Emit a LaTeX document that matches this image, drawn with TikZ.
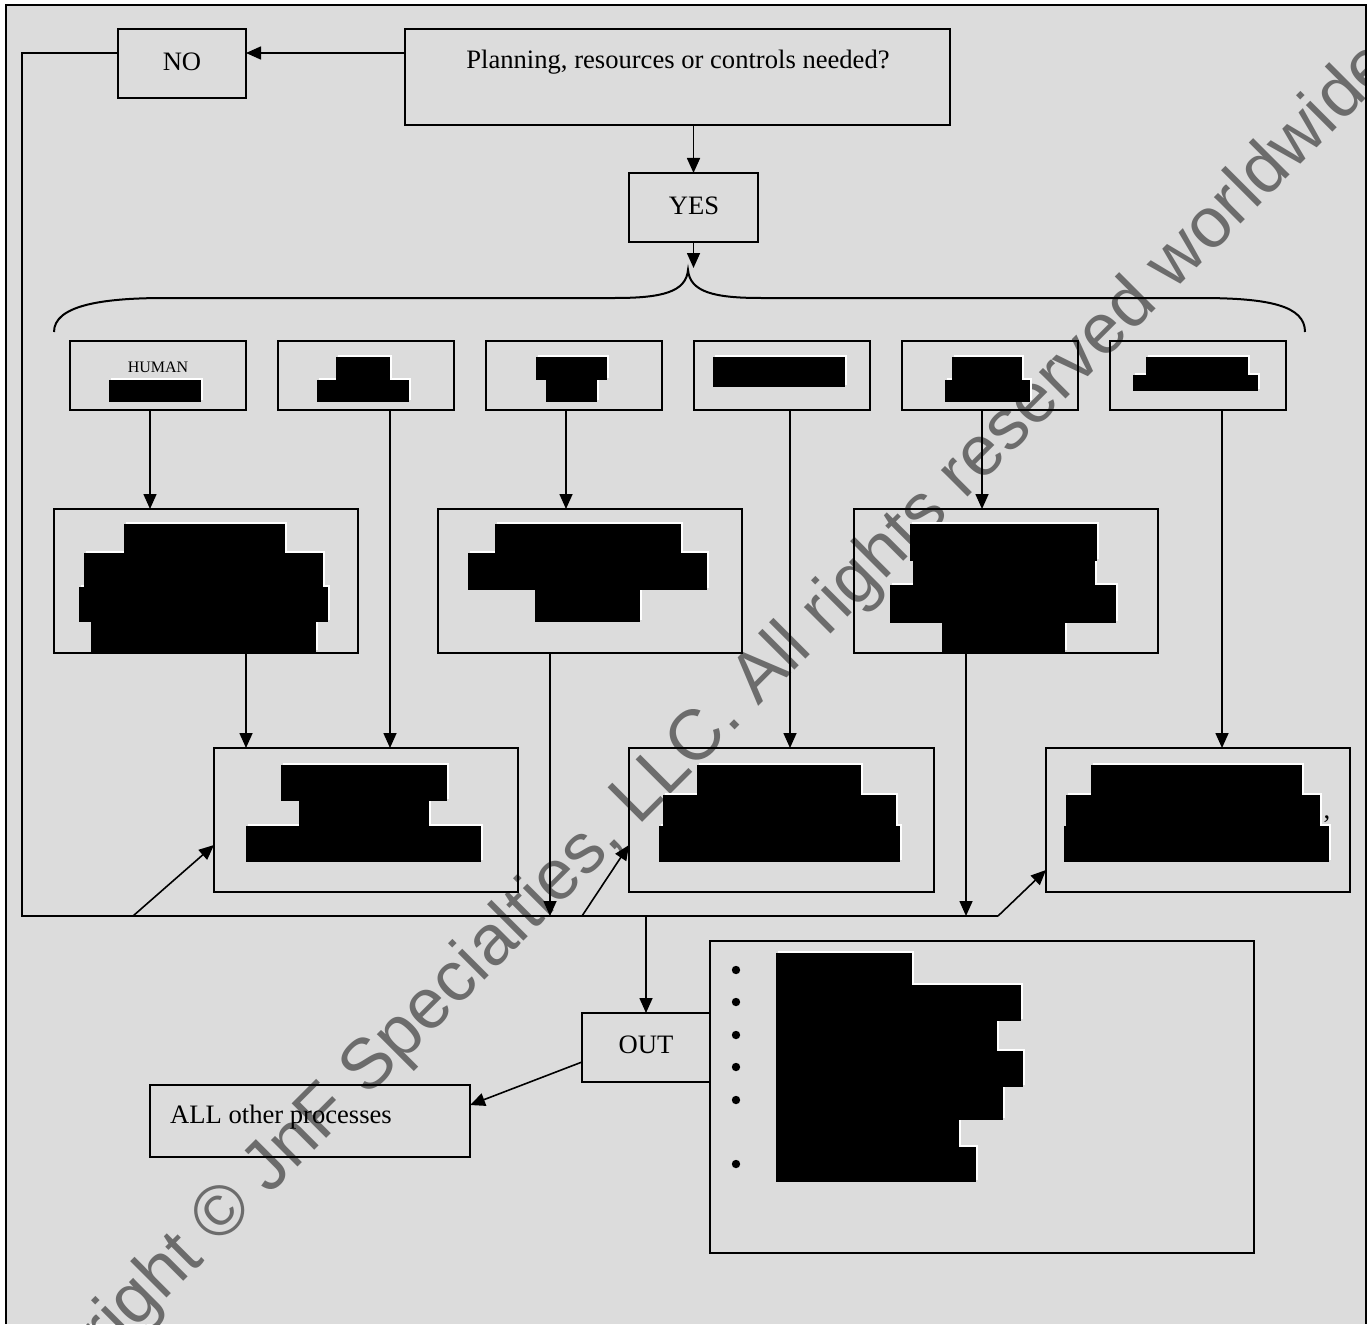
\documentclass[tikz,border=0pt]{standalone}
\usepackage{fontspec}
\setmainfont{Liberation Serif}
\newfontfamily\wmfont{Liberation Sans}
\usetikzlibrary{arrows.meta}
\definecolor{panel}{RGB}{220,220,220}
\definecolor{wmgray}{RGB}{108,108,108}
% redaction blot: union of rectangles with a thin white edge up and right
\newcommand\blot[1]{%
  \foreach \xa/\ya/\xb/\yb in {#1}
    \fill[white] ([shift={(2,-2)}]\xa,\ya) rectangle ([shift={(2,-2)}]\xb,\yb);
  \foreach \xa/\ya/\xb/\yb in {#1}
    \fill[black] (\xa,\ya) rectangle (\xb,\yb);}
\tikzset{
  box/.style={draw, line width=1.9pt, inner sep=0pt, outer sep=0pt},
  txt/.style={font=\fontsize{26.6}{32}\selectfont, inner sep=0pt},
  small/.style={font=\fontsize{16}{19}\selectfont, inner sep=0pt},
  ln/.style={line width=1.6pt},
  arr/.style={line width=1.6pt, -{Triangle[length=15pt,width=13pt]}},
}
\begin{document}
\begin{tikzpicture}[x=1pt,y=-1pt]
\useasboundingbox (0,0) rectangle (1372,1324);
% panel and frame
\fill[panel] (6,5) rectangle (1366,1324);
\begin{scope}
  \clip (6,5) rectangle (1366,1324);
  \node[rotate=45, anchor=base west, text=wmgray, inner sep=0pt,
        font=\wmfont\fontsize{71}{85}\selectfont] (wm) at (-10,1475)
        {Copyright © JnF Specialties, LLC. All rights reserved worldwide};
\end{scope}
\draw[line width=2.5pt] (6,1324) -- (6,5) -- (1366,5) -- (1366,1324);

% top boxes
\node[box, minimum width=128pt, minimum height=69pt] (no) at (182,63.5) {};
\node[txt] (notxt) at (182,62) {NO};
\node[box, minimum width=545pt, minimum height=96pt] (plan) at (677.5,77) {};
\node[txt] (plantxt) at (678,62) {Planning, resources or controls needed?};
\node[box, minimum width=129pt, minimum height=69pt] (yes) at (693.5,207.5) {};
\node[txt] (yestxt) at (694,206) {YES};

% first row of categories
\foreach \i/\cx in {1/158,2/366,3/574,4/782,5/990,6/1198}
  \node[box, minimum width=176pt, minimum height=69pt] (r\i) at (\cx,375.5) {};
\node[small] (human) at (158,367) {HUMAN};
\blot{109/380/201/402}
\blot{336/357/390/380, 317/380/409/402}
\blot{536/357/607/380, 546/380/597/402}
\blot{713/357/845/387}
\blot{952/357/1022/380, 945/380/1030/402}
\blot{1146/357/1248/376, 1133/375/1258/391}

% middle row
\node[box, minimum width=304pt, minimum height=144pt] (m1) at (206,581) {};
\node[box, minimum width=304pt, minimum height=144pt] (m2) at (590,581) {};
\node[box, minimum width=304pt, minimum height=144pt] (m3) at (1006,581) {};
\blot{124/524/285/554, 84/553/323/588, 79/587/328/622, 91/621/316/652}
\blot{495/524/681/554, 468/553/707/590, 535/589/640/622}
\blot{910/524/1097/561, 913/560/1095/586, 890/585/1116/623, 942/622/1065/652}

% bottom row
\node[box, minimum width=304pt, minimum height=144pt] (b1) at (366,820) {};
\node[box, minimum width=305pt, minimum height=144pt] (b2) at (781.5,820) {};
\node[box, minimum width=304pt, minimum height=144pt] (b3) at (1198,820) {};
\blot{281/765/447/801, 299/800/429/827, 246/826/481/862}
\blot{697/765/861/796, 663/795/896/827, 659/826/900/862}
\blot{1091/765/1302/796, 1066/795/1320/827, 1064/826/1329/862}
\node[txt, anchor=base] (comma) at (1327,818) {,};

% outcome boxes
\node[box, minimum width=544pt, minimum height=312pt] (list) at (982,1097) {};
\node[box, minimum width=128pt, minimum height=69pt] (out) at (646,1047.5) {};
\node[txt] (outtxt) at (646,1045) {OUT};
\node[box, minimum width=320pt, minimum height=72pt] (all) at (310,1121) {};
\node[txt, anchor=west] (alltxt) at (170,1117) {ALL other processes};
\foreach \by in {970,1002,1035,1067,1100,1164}
  \fill (736,\by) circle[radius=4.2];
\blot{776/953/912/986, 776/985/1021/1021, 776/1020/997/1052, 776/1051/1023/1087,
      776/1086/1003/1120, 776/1119/959/1148, 776/1147/976/1182}

% brace under YES
\coordinate (tip) at (688,270);
\draw[line width=2pt] (54,332) .. controls (54,306) and (100,298) .. (165,298)
  -- (615,298) .. controls (662,298) and (686,292) .. (tip)
  .. controls (690,292) and (714,298) .. (761,298)
  -- (1200,298) .. controls (1270,298) and (1305,306) .. (1305,332);

% connectors
\coordinate (loopL) at (22,916);
\coordinate (loopR) at (998,916);
\coordinate (dA) at (133,916);
\coordinate (dB) at (582,916);
\draw[arr] ([yshift=-24pt]plan.north west) -- ([yshift=-24pt]no.north east);
\draw[ln] ([yshift=-24pt]no.north west) -| (loopL) -- (loopR);
\draw[arr] (loopR) -- ([yshift=-50pt]b3.west);
\draw[arr] (dA) -- ([yshift=-25pt]b1.west);
\draw[arr] (dB) -- ([yshift=-25pt]b2.west);
\draw[arr] (yes.north |- plan.south) -- (yes.north);
\draw[arr] (yes.south) -- (yes.south |- 0,268);
\draw[arr] ([xshift=-8pt]r1.south) -- ([xshift=-8pt]r1.south |- m1.north);
\draw[arr] ([xshift=24pt]r2.south) -- ([xshift=24pt]r2.south |- b1.north);
\draw[arr] ([xshift=-8pt]r3.south) -- ([xshift=-8pt]r3.south |- m2.north);
\draw[arr] ([xshift=8pt]r4.south) -- ([xshift=8pt]r4.south |- b2.north);
\draw[arr] ([xshift=-8pt]r5.south) -- ([xshift=-8pt]r5.south |- m3.north);
\draw[arr] ([xshift=24pt]r6.south) -- ([xshift=24pt]r6.south |- b3.north);
\draw[arr] ([xshift=40pt]m1.south) -- ([xshift=40pt]m1.south |- b1.north);
\draw[arr] ([xshift=-40pt]m2.south) -- ([xshift=-40pt]m2.south |- loopL);
\draw[arr] ([xshift=-40pt]m3.south) -- ([xshift=-40pt]m3.south |- loopL);
\draw[arr] (out.north |- loopL) -- (out.north);
\draw[arr] ([yshift=-14.5pt]out.west) -- ([yshift=16pt]all.east);
\end{tikzpicture}
\end{document}
